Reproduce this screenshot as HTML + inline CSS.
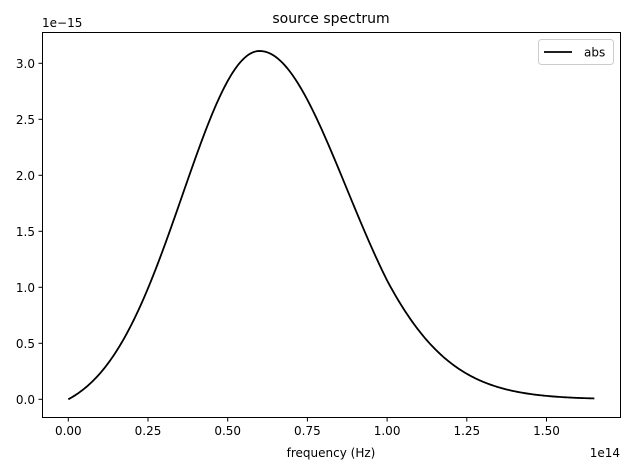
<!DOCTYPE html>
<html><head><style>
body{margin:0;background:#fff;}
svg{display:block;font-family:"DejaVu Sans","Liberation Sans",sans-serif;}
</style></head><body>
<svg id="s" width="630" height="470" viewBox="0 0 630 470">
<rect width="630" height="470" fill="#fff"/>
<text x="331" y="23" font-size="14" text-anchor="middle">source spectrum</text>
<text x="42" y="27" font-size="12">1e−15</text>
<rect x="42.5" y="32.5" width="578" height="385" fill="none" stroke="#000" stroke-width="1"/>
<g id="ticks" font-size="12" stroke="#000"></g>
<path id="curve" fill="none" stroke="#000" stroke-width="1.8"/>
<text x="331" y="457" font-size="12" text-anchor="middle">frequency (Hz)</text>
<text x="620" y="457" font-size="12" text-anchor="end">1e14</text>
<rect x="538.5" y="39.5" width="75" height="25" rx="3" fill="#fff" stroke="#ccc"/>
<line x1="544" y1="52" x2="572" y2="52" stroke="#000" stroke-width="1.8"/>
<text x="584" y="56.5" font-size="12">abs</text>
</svg>
<script>
var g=document.getElementById('ticks'),h='';
var xl=['0.00','0.25','0.50','0.75','1.00','1.25','1.50'];
for(var i=0;i<7;i++){var x=68.3+i*79.7;h+='<line x1="'+x+'" y1="418" x2="'+x+'" y2="421.5"/><text stroke="none" x="'+x+'" y="435" text-anchor="middle">'+xl[i]+'</text>';}
var yl=['0.0','0.5','1.0','1.5','2.0','2.5','3.0'];
for(var i=0;i<7;i++){var y=399.3-i*56;h+='<line x1="38.5" y1="'+y+'" x2="42" y2="'+y+'"/><text stroke="none" x="35" y="'+(y+4.5)+'" text-anchor="end">'+yl[i]+'</text>';}
g.innerHTML=h;
var d='',G0=Math.exp(-0.36/(2*0.2415*0.2415));
for(var k=0;k<=330;k++){var f=k*1.65/330,v;
if(f<=0.6){var G=Math.exp(-Math.pow(f-0.6,2)/(2*0.2415*0.2415));v=(G-G0)/(1-G0);}
else{var dd=f-0.6,s=0.2727*(1+0.17*Math.max(0,dd-0.4));v=Math.exp(-dd*dd/(2*s*s));}
v*=3.11;var x=68.3+f/0.25*79.7,y=399.3-v*112;d+=(k?'L':'M')+x.toFixed(2)+' '+y.toFixed(2);}
document.getElementById('curve').setAttribute('d',d);
</script>
</body></html>
